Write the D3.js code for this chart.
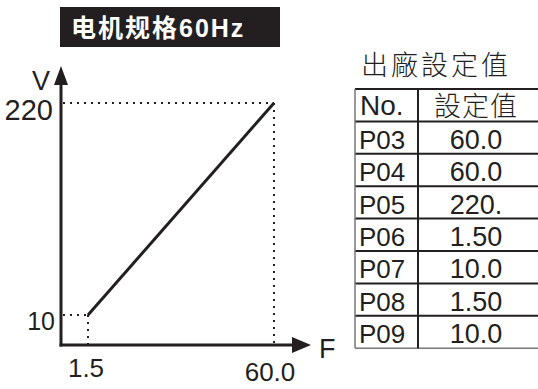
<!DOCTYPE html>
<html><head><meta charset="utf-8">
<script src="https://cdn.jsdelivr.net/npm/d3@7"></script>
<style>html,body{margin:0;padding:0;background:#fff;}svg{display:block;}</style>
</head><body>
<script>
// ---- data ----
const chartTitle = "电机规格60Hz";
const tableTitle = "出廠設定值";
const tableHeader = ["No.", "設定值"];
const params = ["P03", "P04", "P05", "P06", "P07", "P08", "P09"];
const settings = ["60.0", "60.0", "220.", "1.50", "10.0", "1.50", "10.0"];
const freqPoints = [1.5, 60.0];
const voltPoints = [10, 220];
const freqTickLabels = ["1.5", "60.0"];
const voltTickLabels = ["10", "220"];

const W = 538, H = 389;
const ink = "#231f20";
const latin = "'Liberation Sans', Arial, sans-serif";
const cjk = "'Noto Sans CJK TC', 'Noto Sans CJK SC', sans-serif";

const svg = d3.select("body").append("svg").attr("width", W).attr("height", H);

// schematic (not to scale) V/F scales
const x = d3.scaleLinear().domain([0, freqPoints[0], freqPoints[1]]).range([61, 88, 274]);
const y = d3.scaleLinear().domain([0, voltPoints[0], voltPoints[1]]).range([345, 315, 103]);

// title box
svg.append("rect").attr("x", 60).attr("y", 7).attr("width", 220).attr("height", 40).attr("fill", ink);
svg.append("text").attr("x", 71).attr("y", 37).attr("fill", "#fff")
  .attr("font-family", latin + "," + cjk).attr("font-weight", "bold").attr("font-size", 25)
  .attr("letter-spacing", 2)
  .text(chartTitle);

// dotted guides
const dots = svg.append("g").attr("stroke", ink).attr("stroke-width", 2).attr("stroke-dasharray", "2,5").attr("fill", "none");
freqPoints.forEach((f, i) => {
  const v = voltPoints[i];
  dots.append("line").attr("x1", x(0) + 2).attr("x2", x(f)).attr("y1", y(v)).attr("y2", y(v));
  dots.append("line").attr("x1", x(f)).attr("x2", x(f)).attr("y1", y(v)).attr("y2", y(0));
});

// V/F line
const pts = freqPoints.map((f, i) => [f, voltPoints[i]]);
svg.append("path").datum(pts)
  .attr("d", d3.line().x(d => x(d[0])).y(d => y(d[1])))
  .attr("stroke", ink).attr("stroke-width", 3).attr("fill", "none");

// axes
svg.append("line").attr("x1", x(0)).attr("x2", x(0)).attr("y1", y(0) + 1.5).attr("y2", 80)
  .attr("stroke", ink).attr("stroke-width", 3);
svg.append("line").attr("x1", x(0) - 1.5).attr("x2", 296).attr("y1", y(0)).attr("y2", y(0))
  .attr("stroke", ink).attr("stroke-width", 3);
svg.append("path").attr("d", `M${x(0)},66 L${x(0) - 7},85 L${x(0) + 7},85 Z`).attr("fill", ink);
svg.append("path").attr("d", `M311,${y(0)} L292,${y(0) - 8} L292,${y(0) + 8} Z`).attr("fill", ink);

// axis labels
const lab = svg.append("g").attr("fill", ink).attr("font-family", latin);
lab.append("text").attr("x", 32).attr("y", 90).attr("font-size", 27).text("V");
lab.append("text").attr("x", 319).attr("y", 358).attr("font-size", 27).text("F");
voltPoints.forEach((v, i) => {
  lab.append("text").attr("x", i === 0 ? 55 : 53).attr("y", y(v) + (i === 0 ? 15 : 17))
    .attr("text-anchor", "end").attr("font-size", i === 0 ? 25 : 29).text(voltTickLabels[i]);
});
freqPoints.forEach((f, i) => {
  lab.append("text").attr("x", x(f) + (i === 0 ? -2 : -4)).attr("y", i === 0 ? 377 : 381)
    .attr("text-anchor", "middle").attr("font-size", i === 0 ? 26 : 26).text(freqTickLabels[i]);
});

// table
const tx0 = 355, txDiv = 418, tx1 = 538, ty0 = 89, rowH = 32.4;
svg.append("text").attr("x", 361).attr("y", 75).attr("fill", ink)
  .attr("font-family", cjk).attr("font-weight", 300).attr("font-size", 27).attr("letter-spacing", 3)
  .text(tableTitle);

const nRows = params.length + 1;
const tg = svg.append("g");
for (let r = 0; r <= nRows; r++) {
  const yy = ty0 + r * rowH;
  tg.append("line").attr("x1", tx0).attr("x2", tx1).attr("y1", yy).attr("y2", yy)
    .attr("stroke", r === nRows ? "#777" : ink).attr("stroke-width", r === nRows ? 1.5 : 2);
}
tg.append("line").attr("x1", tx0).attr("x2", tx0).attr("y1", ty0).attr("y2", ty0 + nRows * rowH)
  .attr("stroke", "#777").attr("stroke-width", 1.5);
tg.append("line").attr("x1", txDiv).attr("x2", txDiv).attr("y1", ty0).attr("y2", ty0 + nRows * rowH)
  .attr("stroke", ink).attr("stroke-width", 2);

tg.append("text").attr("x", 360).attr("y", ty0 + rowH - 6).attr("fill", ink)
  .attr("font-family", latin).attr("font-size", 28).text(tableHeader[0]);
tg.append("text").attr("x", 476).attr("y", ty0 + rowH - 5).attr("fill", ink).attr("text-anchor", "middle")
  .attr("font-family", cjk).attr("font-weight", 300).attr("font-size", 27).attr("letter-spacing", 1)
  .text(tableHeader[1]);

params.forEach((p, i) => {
  const base = ty0 + (i + 2) * rowH - 5;
  tg.append("text").attr("x", 359).attr("y", base).attr("fill", ink)
    .attr("font-family", latin).attr("font-size", 26).text(p);
  tg.append("text").attr("x", 476).attr("y", base).attr("fill", ink).attr("text-anchor", "middle")
    .attr("font-family", latin).attr("font-size", 27).text(settings[i]);
});
</script>
</body></html>
